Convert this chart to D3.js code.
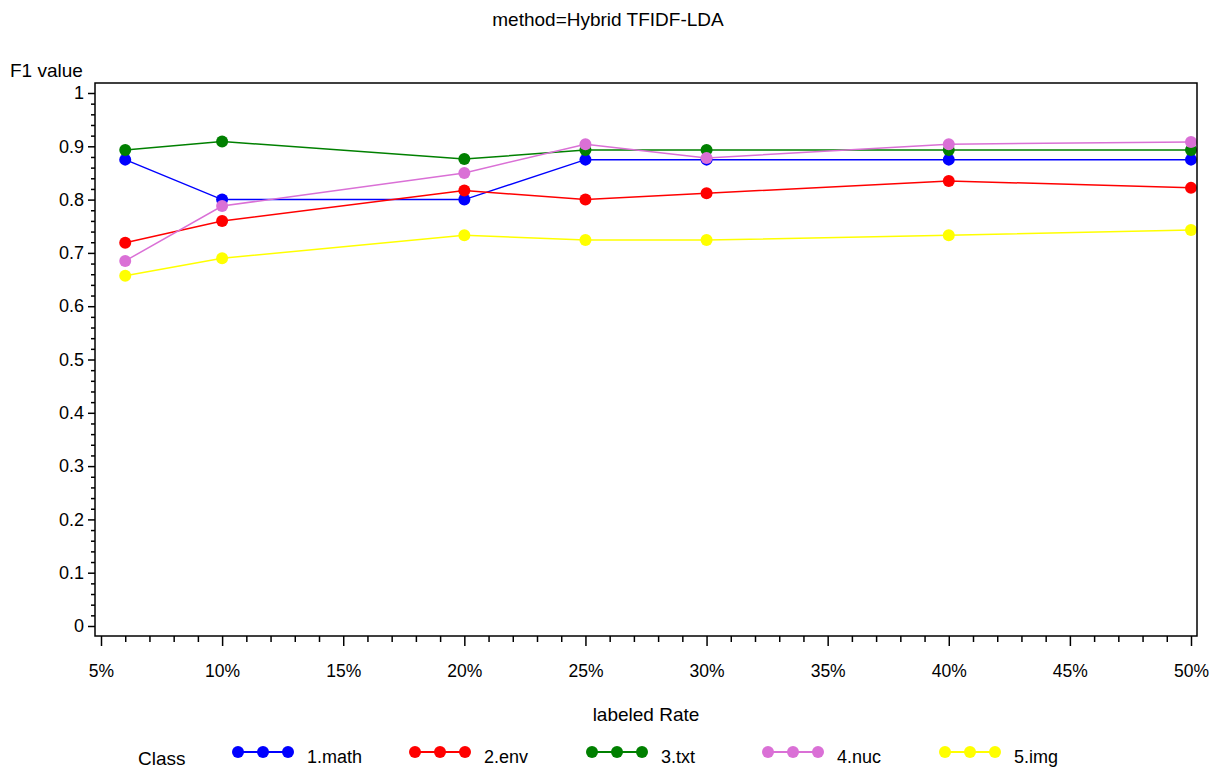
<!DOCTYPE html>
<html>
<head>
<meta charset="utf-8">
<script src="https://cdn.jsdelivr.net/npm/d3@7"></script>
<style>
  body { margin: 0; background: #fff; }
  text { font-family: "Liberation Sans", Arial, sans-serif; fill: #000; }
</style>
</head>
<body>
<svg id="chart"></svg>
<script>
// data
const rates = [6, 10, 20, 25, 30, 40, 50];
const classes = ['1.math', '2.env', '3.txt', '4.nuc', '5.img'];
const colors = ['#0000ff', '#ff0000', '#008000', '#da70d6', '#ffff00'];
const mathVals = [0.875, 0.800, 0.800, 0.875, 0.875, 0.875, 0.875];
const envVals  = [0.719, 0.760, 0.817, 0.800, 0.812, 0.835, 0.822];
const txtVals  = [0.893, 0.909, 0.876, 0.893, 0.893, 0.893, 0.893];
const nucVals  = [0.685, 0.788, 0.850, 0.904, 0.878, 0.904, 0.908];
const imgVals  = [0.657, 0.690, 0.733, 0.724, 0.724, 0.733, 0.743];
const seriesVals = [mathVals, envVals, txtVals, nucVals, imgVals];
const xTicks = [5, 10, 15, 20, 25, 30, 35, 40, 45, 50];
const yTicks = [0, 0.1, 0.2, 0.3, 0.4, 0.5, 0.6, 0.7, 0.8, 0.9, 1];

const W = 1217, H = 769;
const frame = {left: 95, right: 1197, top: 83, bottom: 636};
const FONT = '"Liberation Sans", Arial, sans-serif';

const svg = d3.select('#chart').attr('width', W).attr('height', H);

const x = d3.scaleLinear().domain([5, 50]).range([101, 1191]);
const y = d3.scaleLinear().domain([0, 1]).range([626, 93]);

// title
svg.append('text')
    .attr('x', 608).attr('y', 26)
    .attr('text-anchor', 'middle')
    .style('font-size', '19px')
    .text('method=Hybrid TFIDF-LDA');

// y axis
const yAxis = d3.axisLeft(y)
    .tickValues(yTicks)
    .tickSize(7)
    .tickPadding(4)
    .tickFormat(d => d === 0 || d === 1 ? d : d3.format('.1f')(d));
const yG = svg.append('g')
    .attr('transform', `translate(${frame.left},0)`)
    .call(yAxis)
    .call(g => g.select('.domain').remove());
yG.selectAll('text').style('font-size', '18px').style('font-family', FONT);
yG.selectAll('line').attr('stroke-width', 1.5);

const yMinor = d3.range(0, 1.0001, 0.02).filter(v => Math.round(v * 50) % 5 !== 0);
svg.append('g')
    .attr('transform', `translate(${frame.left},0)`)
    .call(d3.axisLeft(y).tickValues(yMinor).tickSize(4).tickFormat(''))
    .call(g => g.select('.domain').remove())
    .selectAll('line').attr('stroke-width', 1.5);

// x axis
const xAxis = d3.axisBottom(x)
    .tickValues(xTicks)
    .tickSize(10)
    .tickPadding(19)
    .tickFormat(d => d + '%');
const xG = svg.append('g')
    .attr('transform', `translate(0,${frame.bottom})`)
    .call(xAxis)
    .call(g => g.select('.domain').remove());
xG.selectAll('text').style('font-size', '17.5px').style('font-family', FONT);
xG.selectAll('line').attr('stroke-width', 1.5);

const xMinor = d3.range(5, 51).filter(v => v % 5 !== 0);
svg.append('g')
    .attr('transform', `translate(0,${frame.bottom})`)
    .call(d3.axisBottom(x).tickValues(xMinor).tickSize(6).tickFormat(''))
    .call(g => g.select('.domain').remove())
    .selectAll('line').attr('stroke-width', 1.5);

// axis titles
svg.append('text')
    .attr('x', 10).attr('y', 77)
    .style('font-size', '19px')
    .text('F1 value');
svg.append('text')
    .attr('x', 646).attr('y', 721)
    .attr('text-anchor', 'middle')
    .style('font-size', '19px')
    .text('labeled Rate');

// series
const line = d3.line().x((d, i) => x(rates[i])).y(d => y(d));
seriesVals.forEach((vals, k) => {
  const g = svg.append('g');
  g.append('path')
      .attr('d', line(vals))
      .attr('fill', 'none')
      .attr('stroke', colors[k])
      .attr('stroke-width', 1.5);
  g.selectAll('circle').data(vals).join('circle')
      .attr('cx', (d, i) => x(rates[i]))
      .attr('cy', d => y(d))
      .attr('r', 6)
      .attr('fill', colors[k]);
});

// frame on top
svg.append('rect')
    .attr('x', frame.left).attr('y', frame.top)
    .attr('width', frame.right - frame.left)
    .attr('height', frame.bottom - frame.top)
    .attr('fill', 'none')
    .attr('stroke', '#000')
    .attr('stroke-width', 1.5);

// legend
svg.append('text')
    .attr('x', 138).attr('y', 765)
    .style('font-size', '19px')
    .text('Class');
const legendX = [238, 415, 592, 768, 945];
classes.forEach((c, k) => {
  const lx = legendX[k], ly = 752;
  const g = svg.append('g');
  g.append('line')
      .attr('x1', lx).attr('x2', lx + 50)
      .attr('y1', ly).attr('y2', ly)
      .attr('stroke', colors[k]).attr('stroke-width', 2);
  g.selectAll('circle').data([0, 25, 50]).join('circle')
      .attr('cx', d => lx + d).attr('cy', ly).attr('r', 6)
      .attr('fill', colors[k]);
  g.append('text')
      .attr('x', lx + 69).attr('y', 763)
      .style('font-size', '18px')
      .text(c);
});
</script>
</body>
</html>
